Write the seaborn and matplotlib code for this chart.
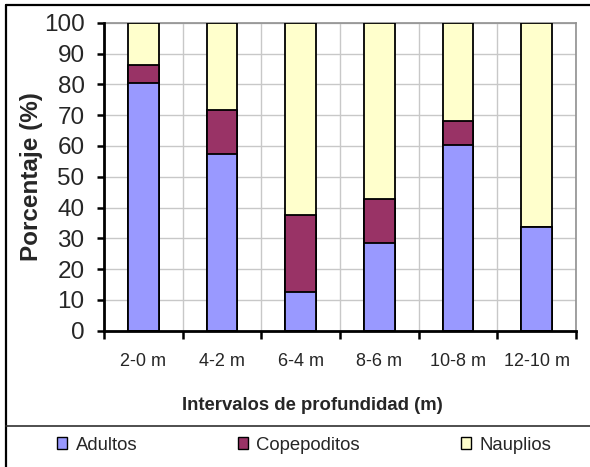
import matplotlib
matplotlib.use("Agg")
import matplotlib.pyplot as plt
from matplotlib.lines import Line2D
from matplotlib.patches import Patch
import numpy as np
import pandas as pd
import seaborn as sns

# Depth intervals and stage composition (% of individuals)
intervalos = ["2-0 m", "4-2 m", "6-4 m", "8-6 m", "10-8 m", "12-10 m"]
adultos = [80.5, 57.3, 12.6, 28.5, 60.2, 33.7]
copepoditos = [5.8, 14.3, 25.0, 14.3, 8.0, 0.0]
nauplios = [13.7, 28.4, 62.4, 57.2, 31.8, 66.3]

etapas = ["Adultos", "Copepoditos", "Nauplios"]
colores = ["#9999FF", "#993366", "#FFFFCC"]
yticks = [0, 10, 20, 30, 40, 50, 60, 70, 80, 90, 100]

df = pd.DataFrame({"Intervalo": intervalos, "Adultos": adultos,
                   "Copepoditos": copepoditos, "Nauplios": nauplios})
acum = df[etapas].cumsum(axis=1)
acum["Intervalo"] = df["Intervalo"]

sns.set_theme(style="white")
plt.rcParams["font.family"] = ["Liberation Sans", "DejaVu Sans"]

W, H = 590, 467
AX_L, AX_R, AX_T, AX_B = 104, 576, 22.7, 330.7
fig = plt.figure(figsize=(W / 100, H / 100), dpi=100)
ax = fig.add_axes([AX_L / W, 1 - AX_B / H, (AX_R - AX_L) / W, (AX_B - AX_T) / H])

# Stacked bars: draw cumulative totals from the top segment down
for etapa, color in zip(etapas[::-1], colores[::-1]):
    sns.barplot(data=acum, x="Intervalo", y=etapa, color=color, width=0.39,
                edgecolor="black", linewidth=1.3, saturation=1, ax=ax, zorder=3)

ax.set_xlim(-0.5, len(intervalos) - 0.5)
ax.set_ylim(0, 100)
ax.set_yticks(yticks)
ax.set_yticklabels([str(v) for v in yticks], fontsize=17.5)

# Tick marks between categories, labels at the category centers
pos = np.arange(len(intervalos))
ax.set_xticks(np.append(pos - 0.5, len(intervalos) - 0.5))
ax.set_xticklabels([""] * (len(intervalos) + 1))
ax.set_xticks(pos, minor=True)
ax.set_xticklabels(intervalos, minor=True, fontsize=13)
ax.tick_params(axis="x", which="major", direction="out", length=6, width=1.8,
               color="black", bottom=True)
ax.tick_params(axis="x", which="minor", length=0, pad=16)
ax.tick_params(axis="y", which="major", direction="out", length=5, width=1.8,
               color="black", left=True, pad=9)

ax.grid(True, which="major", axis="both", color="#C8C8C8", linewidth=1, zorder=0)
ax.set_axisbelow(True)

for s in ["left", "bottom"]:
    ax.spines[s].set_color("black")
    ax.spines[s].set_linewidth(2)
    ax.spines[s].set_zorder(5)
for s in ["top", "right"]:
    ax.spines[s].set_color("#909090")
    ax.spines[s].set_linewidth(1.2)

ax.set_xlabel("")
ax.set_ylabel("Porcentaje (%)", fontsize=17.5, fontweight="bold")
ax.yaxis.set_label_coords((43 - AX_L) / (AX_R - AX_L), 0.5)

fig.text(312 / W, 1 - 406 / H, "Intervalos de profundidad (m)", fontsize=13.3,
         fontweight="bold", ha="center", va="center")

# Chart frame and legend separator
fig.add_artist(Line2D([6 / W, 1], [1 - 4.5 / H, 1 - 4.5 / H], color="black", lw=1.6))
fig.add_artist(Line2D([6 / W, 6 / W], [0, 1 - 4.5 / H], color="black", lw=1.6))
fig.add_artist(Line2D([6 / W, 1], [1 - 426 / H, 1 - 426 / H], color="#303030", lw=1.2))

handles = [Patch(facecolor=c, edgecolor="black", linewidth=1.0) for c in colores]
fig.legend(handles, etapas, loc="center", ncol=3, frameon=False, fontsize=13.3,
           bbox_to_anchor=(304 / W, 1 - 445 / H), handlelength=0.55,
           handleheight=0.55, handletextpad=0.45, columnspacing=5.45,
           borderpad=0, borderaxespad=0)

fig.savefig("out.png", dpi=100)
